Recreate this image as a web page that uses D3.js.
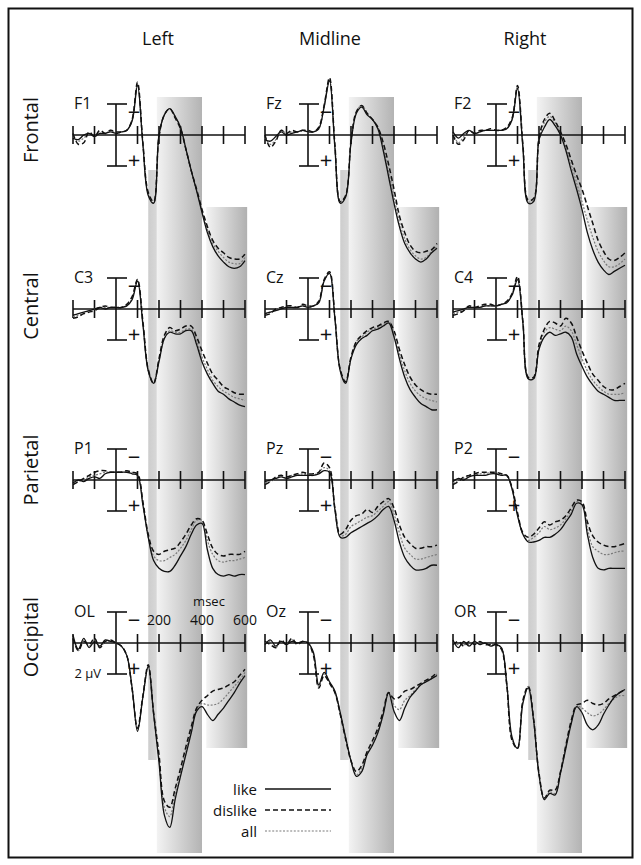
<!DOCTYPE html>
<html>
<head>
<meta charset="utf-8">
<script src="https://cdn.jsdelivr.net/npm/d3@7"></script>
<style>
  body { margin: 0; background: #fff; }
  svg text { font-family: "Open Sans", "Noto Sans", sans-serif; fill: #111; }
</style>
</head>
<body>
<svg id="fig" width="641" height="865"></svg>
<script>
// ---- data (values in microvolts, positive plotted downward) ----
const times = [-200,-175,-150,-125,-100,-75,-50,-25,0,25,50,75,100,125,150,175,200,225,250,275,300,325,350,375,400,425,450,475,500,525,550,575,600];
const tickTimes = [-200,-100,100,200,300,400,500,600];
const msecLabels = [200,400,600];
const columns = ["Left","Midline","Right"];
const regions = ["Frontal","Central","Parietal","Occipital"];
const electrodes = [["F1","Fz","F2"],["C3","Cz","C4"],["P1","Pz","P2"],["OL","Oz","OR"]];
const conditions = ["like","dislike","all"];
const bandNarrow = [150, 190];
const bandMain = [190, 400];
const bandLate = [420, 610];

const F1_like    = [0.2,0.3,0,-0.1,0.1,-0.1,-0.1,-0.2,-0.1,-0.2,-0.3, -0.9,-3.2,0.6,3.9,4.4,0,-1.3,-1.7,-1.2,-0.5,0.9, 2.3,3.6,5.0,6.3,7.2,7.8,8.2,8.5,8.6,8.5,8.1];
const F1_dislike = [-0.1,0.6,0.5,-0.2,0.1,-0.3,-0.1,-0.3,-0.2,-0.2,-0.3, -1.0,-3.4,0.5,3.7,4.3,0.1,-1.3,-1.7,-1.1,-0.4,0.9, 2.3,3.5,4.8,5.9,6.8,7.3,7.6,7.9,8.0,8.0,7.7];
const F1_all     = [0.1,0.4,0.2,-0.1,0.1,-0.1,-0.1,-0.3,-0.1,-0.2,-0.3, -1.0,-3.3,0.6,3.8,4.4,0.1,-1.3,-1.7,-1.2,-0.5,0.9, 2.3,3.6,4.9,6.1,7.0,7.5,7.9,8.2,8.3,8.3,7.9];

const Fz_like    = [0.3,0.4,0.1,-0.2,0,-0.1,-0.2,-0.3,-0.2,-0.2,-0.4, -1.8,-3.5,0.8,4.4,4.0,0.5,-1.4,-1.8,-1.3,-1.0,-0.4, 1.0,2.7,4.4,5.9,7.0,7.6,8.0,8.2,8.0,7.6,7.3];
const Fz_dislike = [0,0.8,0.4,-0.3,-0.1,-0.3,-0.2,-0.3,-0.3,-0.2,-0.5, -1.9,-3.7,0.6,4.3,3.9,0.4,-1.5,-1.9,-1.4,-1.0,-0.5, 0.5,1.9,3.5,5.2,6.3,7.1,7.5,7.6,7.5,7.4,7.0];
const Fz_all     = [0.2,0.6,0.3,-0.3,-0.1,-0.2,-0.2,-0.3,-0.2,-0.2,-0.4, -1.9,-3.6,0.7,4.3,3.9,0.5,-1.5,-1.9,-1.4,-1.0,-0.5, 0.8,2.4,4.0,5.6,6.7,7.4,7.8,8.0,7.9,7.5,7.2];

const F2_like    = [-0.2,0.2,-0.1,-0.3,-0.1,-0.2,-0.3,-0.3,-0.3,-0.3,-0.4, -1.0,-3.0,0.8,4.4,4.3,0.3,-0.5,-1.0,-0.6,0,1.0, 2.3,3.5,4.8,6.3,7.4,8.2,8.7,9.0,8.8,8.6,8.4];
const F2_dislike = [0,0.6,0.3,-0.3,-0.1,-0.3,-0.3,-0.4,-0.3,-0.3,-0.5, -1.1,-3.2,0.6,4.2,4.1,0.2,-1.0,-1.4,-0.9,-0.2,0.6, 1.6,2.6,3.5,4.6,5.7,6.8,7.5,8.0,8.1,7.9,7.6];
const F2_all     = [-0.1,0.5,0.1,-0.3,-0.1,-0.2,-0.3,-0.3,-0.3,-0.3,-0.4, -1.0,-3.1,0.7,4.3,4.2,0.3,-0.8,-1.2,-0.8,-0.1,0.8, 1.9,3.1,4.3,5.5,6.6,7.5,8.1,8.5,8.5,8.3,8.0];

const C3_like    = [0.4,0.3,0.2,0.1,0,-0.1,0,-0.1,-0.1,-0.1,-0.2, -0.6,-1.8,1.0,4.0,4.8,3.4,1.9,1.5,1.6,1.6,1.4, 1.4,2.3,3.4,4.2,4.8,5.3,5.5,5.8,6.0,6.2,6.3];
const C3_dislike = [0.6,0.5,0.3,0.2,0.1,-0.1,-0.2,-0.1,-0.1,-0.1,-0.3, -0.8,-1.9,0.8,3.9,4.8,3.2,1.7,1.2,1.4,1.3,1.1, 1.1,1.8,2.7,3.5,4.2,4.6,5.0,5.2,5.4,5.5,5.5];
const C3_all     = [0.5,0.4,0.3,0.1,0,-0.1,-0.1,-0.1,-0.1,-0.1,-0.2, -0.7,-1.9,0.9,3.9,4.8,3.3,1.9,1.4,1.5,1.5,1.3, 1.3,2.1,3.1,3.9,4.6,5.0,5.3,5.5,5.7,5.8,5.9];

const Cz_like    = [0.3,0.2,0.1,0,-0.1,-0.1,-0.1,-0.2,-0.1,-0.2,-0.4, -1.8,-2.3,0.6,4.0,4.8,3.2,2.3,1.9,1.7,1.4,1.3, 1.1,0.9,1.8,3.2,4.4,5.2,5.7,6.1,6.3,6.5,6.5];
const Cz_dislike = [0.4,0.3,0,-0.1,-0.2,-0.2,-0.1,-0.3,-0.2,-0.2,-0.5, -1.9,-2.4,0.5,3.9,4.7,3.1,2.1,1.7,1.4,1.2,1.1, 0.9,0.8,1.4,2.6,3.6,4.4,4.9,5.2,5.4,5.5,5.5];
const Cz_all     = [0.3,0.2,0.1,-0.1,-0.1,-0.1,-0.1,-0.2,-0.1,-0.2,-0.4, -1.8,-2.3,0.6,3.9,4.8,3.2,2.1,1.8,1.5,1.3,1.2, 1.0,0.8,1.6,2.9,4.0,4.8,5.3,5.6,5.8,5.9,6.0];

const C4_like    = [0.2,0.1,0,-0.1,-0.1,-0.1,-0.2,-0.2,-0.2,-0.3,-0.4, -0.9,-1.9,0.9,4.5,4.5,2.6,1.8,1.5,1.7,1.6,1.5, 1.8,2.9,3.7,4.4,4.9,5.3,5.5,5.7,5.9,5.9,5.9];
const C4_dislike = [0.4,0.3,0.1,-0.2,-0.1,-0.2,-0.3,-0.3,-0.2,-0.3,-0.5, -1.0,-2.1,0.8,4.4,4.4,2.3,1.3,0.8,0.9,1.1,0.6, 0.9,1.8,2.7,3.5,4.2,4.6,5.0,5.2,5.2,5.0,4.8];
const C4_all     = [0.3,0.2,0.1,-0.1,-0.1,-0.1,-0.2,-0.2,-0.2,-0.3,-0.4, -1.0,-2.0,0.8,4.5,4.5,2.5,1.5,1.2,1.3,1.4,1.1, 1.4,2.3,3.2,4.0,4.6,5.0,5.3,5.5,5.5,5.5,5.4];

const P1_like    = [0.2,0,0.1,-0.1,-0.2,-0.1,-0.4,-0.5,-0.5,-0.5,-0.5, -0.4,-0.3,1.6,3.7,5.2,5.7,5.9,5.9,5.5,4.9,4.3, 3.5,2.9,2.8,4.5,5.7,6.1,6.2,6.1,6.2,6.1,6.1];
const P1_dislike = [0.3,0.1,-0.1,-0.3,-0.5,-0.6,-0.6,-0.5,-0.5,-0.5,-0.6, -0.5,-0.4,1.4,3.5,4.6,4.8,4.6,4.5,4.4,4.0,3.5, 2.9,2.5,2.6,3.5,4.4,4.8,4.9,4.8,4.8,4.8,4.6];
const P1_all     = [0.3,0.1,0,-0.2,-0.3,-0.4,-0.5,-0.5,-0.5,-0.5,-0.5, -0.5,-0.3,1.5,3.7,4.9,5.2,5.2,5.0,4.8,4.4,3.9, 3.2,2.6,2.6,3.9,4.8,5.2,5.3,5.2,5.2,5.1,5.0];

const Pz_like    = [0.1,0,-0.1,-0.2,-0.1,-0.2,-0.3,-0.3,-0.3,-0.3,-0.4, -0.6,-0.5,1.9,3.7,3.7,3.4,3.2,3.0,2.8,2.6,2.3, 1.9,1.7,2.6,4.0,5.0,5.5,5.8,5.8,5.7,5.5,5.5];
const Pz_dislike = [0.3,0.1,-0.2,-0.3,-0.2,-0.3,-0.4,-0.5,-0.4,-0.4,-0.5, -1.1,-0.8,1.8,3.5,3.2,2.6,2.3,2.2,1.9,2.1,1.7, 1.4,1.2,1.8,2.9,3.7,4.1,4.4,4.4,4.3,4.3,4.2];
const Pz_all     = [0.2,0.1,-0.1,-0.3,-0.1,-0.3,-0.3,-0.4,-0.3,-0.3,-0.5, -0.8,-0.6,1.9,3.6,3.5,3.0,2.8,2.6,2.4,2.3,2.0, 1.7,1.4,2.2,3.4,4.4,4.8,5.1,5.1,5.0,4.9,4.8];

const P2_like    = [0.1,-0.1,0,-0.2,-0.3,-0.3,-0.3,-0.4,-0.4,-0.3,-0.3, 0.6,2.3,3.5,4.0,4.0,3.9,3.7,3.7,3.5,3.2,2.7, 2.2,1.5,1.6,3.5,5.0,5.7,5.8,5.7,5.7,5.7,5.7];
const P2_dislike = [0.3,0.1,-0.2,-0.3,-0.4,-0.5,-0.5,-0.5,-0.5,-0.4,-0.3, 0.5,2.1,3.4,3.7,3.5,3.1,2.7,2.9,2.7,2.6,2.3, 1.8,1.3,1.4,2.7,3.6,4.0,4.2,4.3,4.3,4.2,4.1];
const P2_all     = [0.2,0,-0.1,-0.3,-0.3,-0.4,-0.4,-0.5,-0.4,-0.3,-0.3, 0.6,2.2,3.5,3.9,3.7,3.4,3.0,3.2,3.1,2.9,2.5, 2.0,1.4,1.5,3.1,4.3,4.6,4.8,4.8,4.7,4.6,4.6];

const OL_like    = [-0.5,0.4,-0.3,0.3,-0.1,0.2,-0.2,-0.1,0,0.2,0.8, 2.9,5.7,3.5,1.5,4.6,7.7,11.1,11.9,10.1,8.6,7.2, 5.8,4.4,4.1,4.6,5.0,4.6,4.2,3.7,3.2,2.6,2.1];
const OL_dislike = [-0.3,0.5,-0.1,0.1,-0.3,0.3,-0.1,-0.2,0,0.2,0.8, 3.0,5.5,3.4,1.4,4.5,7.2,10.2,10.6,9.4,8.1,6.7, 5.4,4.2,3.7,3.4,3.1,3.0,2.9,2.7,2.5,2.1,1.7];
const OL_all     = [-0.4,0.5,-0.2,0.2,-0.2,0.3,-0.1,-0.1,0,0.2,0.8, 2.9,5.6,3.5,1.5,4.6,7.5,10.6,11.2,9.7,8.4,7.0, 5.6,4.3,3.9,4.0,4.0,3.9,3.6,3.2,2.8,2.4,1.9];

const Oz_like    = [0.1,-0.2,0.2,-0.1,0.1,-0.1,0,-0.1,0,0.6,2.7, 1.9,2.5,3.1,4.5,6.1,7.6,8.6,8.3,7.2,6.6,5.8, 4.6,3.2,4.4,5.0,4.2,3.5,3.1,2.7,2.5,2.3,2.1];
const Oz_dislike = [-0.1,0.1,0.3,-0.2,0.1,-0.3,0.1,-0.1,0,0.8,2.9, 2.1,2.6,3.2,4.6,6.2,7.6,8.3,7.9,7.0,6.3,5.5, 4.4,3.2,3.6,3.5,3.1,3.0,2.8,2.6,2.4,2.2,1.9];
const Oz_all     = [0,-0.1,0.3,-0.1,0.1,-0.2,0,-0.1,0,0.7,2.8, 2.0,2.5,3.2,4.6,6.1,7.6,8.5,8.1,7.1,6.5,5.7, 4.5,3.2,4.0,4.3,3.7,3.4,3.0,2.7,2.5,2.3,2.0];

const OR_like    = [-0.2,0.3,-0.1,0.2,-0.1,0.1,0,0.2,0.1,0.3,2.6, 6.1,6.8,3.9,2.9,5.0,8.5,10.1,9.7,9.8,8.4,6.8, 5.2,4.1,4.5,5.3,5.6,5.3,4.6,4.0,3.5,3.2,3.0];
const OR_dislike = [0.1,-0.1,0.2,-0.1,0.1,-0.1,0.1,0.1,0.1,0.4,2.7, 6.3,6.8,3.7,2.8,4.9,8.4,10.0,9.5,9.5,8.3,6.6, 5.0,4.0,3.9,3.7,3.9,4.0,3.9,3.6,3.4,3.2,3.0];
const OR_all     = [0,0.1,0.1,0.1,0,0,0,0.1,0.1,0.3,2.6, 6.2,6.8,3.8,2.8,5.0,8.5,10.1,9.6,9.7,8.3,6.6, 5.1,4.1,4.2,4.5,4.7,4.6,4.3,3.9,3.6,3.4,3.4];

// lookup table built from the arrays above
const waves = {
  F1: {like: F1_like, dislike: F1_dislike, all: F1_all},
  Fz: {like: Fz_like, dislike: Fz_dislike, all: Fz_all},
  F2: {like: F2_like, dislike: F2_dislike, all: F2_all},
  C3: {like: C3_like, dislike: C3_dislike, all: C3_all},
  Cz: {like: Cz_like, dislike: Cz_dislike, all: Cz_all},
  C4: {like: C4_like, dislike: C4_dislike, all: C4_all},
  P1: {like: P1_like, dislike: P1_dislike, all: P1_all},
  Pz: {like: Pz_like, dislike: Pz_dislike, all: Pz_all},
  P2: {like: P2_like, dislike: P2_dislike, all: P2_all},
  OL: {like: OL_like, dislike: OL_dislike, all: OL_all},
  Oz: {like: Oz_like, dislike: Oz_dislike, all: Oz_all},
  OR: {like: OR_like, dislike: OR_dislike, all: OR_all}
};

// ---- layout ----
const colZero = [116, 308, 496];    // x of 0 ms in each column
const rowAxis = [135, 309, 480, 643]; // y of 0 uV in each row
const lineStyle = {
  like:    {stroke: "#111", width: 1.3, dash: null},
  dislike: {stroke: "#111", width: 1.5, dash: "5,3"},
  all:     {stroke: "#7a7a7a", width: 1.2, dash: "2,1.6"}
};

class ErpFigure {
  constructor(svgSel){
    this.svg = d3.select(svgSel);
    this.defs = this.svg.append("defs");
    this.makeGradients();

    this.gBands = this.svg.append("g").attr("filter", "url(#soft)");
    this.gAxes = this.svg.append("g");
    this.gLines = this.svg.append("g");
    this.gText = this.svg.append("g");

    this.drawFrame();
    this.drawBands();
    columns.forEach((c, ci) => {
      regions.forEach((r, ri) => this.drawPanel(ri, ci));
    });
    this.drawLabels();
    this.drawLegend();
  }

  xScale(ci){
    return d3.scaleLinear().domain([-200, 600]).range([colZero[ci] - 43, colZero[ci] + 129]);
  }

  yScale(ri){
    // 2 uV = 31 px, negative up
    return d3.scaleLinear().domain([-2, 2]).range([rowAxis[ri] - 31, rowAxis[ri] + 31]);
  }

  makeGradients(){
    const grad = (id, a, b) => {
      const g = this.defs.append("linearGradient").attr("id", id)
        .attr("x1", "0%").attr("x2", "100%").attr("y1", "0%").attr("y2", "0%");
      g.append("stop").attr("offset", "0%").attr("stop-color", a);
      g.append("stop").attr("offset", "100%").attr("stop-color", b);
    };
    grad("gMain", "#f3f3f3", "#b3b3b3");
    grad("gLate", "#f3f3f3", "#b0b0b0");
    grad("gNarrow", "#cdcdcd", "#d8d8d8");
    this.defs.append("filter").attr("id", "soft")
      .append("feGaussianBlur").attr("stdDeviation", 0.7);
  }

  drawFrame(){
    this.svg.append("rect")
      .attr("x", 8.5).attr("y", 8.5).attr("width", 624).attr("height", 849)
      .attr("fill", "none").attr("stroke", "#111").attr("stroke-width", 2);
  }

  drawBands(){
    const specs = [
      {win: bandNarrow, fill: "url(#gNarrow)", top: rowAxis[0] + 35, bottom: rowAxis[3] + 117},
      {win: bandMain, fill: "url(#gMain)", top: rowAxis[0] - 38, bottom: rowAxis[3] + 210},
      {win: bandLate, fill: "url(#gLate)", top: rowAxis[1] - 102, bottom: rowAxis[3] + 105}
    ];
    columns.forEach((c, ci) => {
      const x = this.xScale(ci);
      specs.forEach(s => {
        this.gBands.append("rect")
          .attr("x", x(s.win[0])).attr("width", x(s.win[1]) - x(s.win[0]))
          .attr("y", s.top).attr("height", s.bottom - s.top)
          .attr("fill", s.fill);
      });
    });
  }

  drawPanel(ri, ci){
    const x = this.xScale(ci), y = this.yScale(ri);
    const x0 = x(0), y0 = y(0);
    const g = this.gAxes.append("g").attr("stroke", "#111").attr("stroke-width", 1.6);

    // time axis + ticks
    g.append("line").attr("x1", x(-200)).attr("x2", x(600)).attr("y1", y0).attr("y2", y0);
    g.selectAll(".tick").data(tickTimes).enter().append("line")
      .attr("x1", d => x(d)).attr("x2", d => x(d))
      .attr("y1", y0 - 9).attr("y2", y0 + 9);

    // amplitude scale bar
    g.append("line").attr("x1", x0).attr("x2", x0).attr("y1", y(-2)).attr("y2", y(2));
    g.append("line").attr("x1", x0 - 9).attr("x2", x0 + 11).attr("y1", y(-2)).attr("y2", y(-2));
    g.append("line").attr("x1", x0 - 9).attr("x2", x0 + 11).attr("y1", y(2)).attr("y2", y(2));

    // polarity signs and electrode name
    this.gText.append("text").attr("x", x0 + 18).attr("y", y0 - 15)
      .attr("text-anchor", "middle").style("font-size", "22px").text("\u2212");
    this.gText.append("text").attr("x", x0 + 18).attr("y", y0 + 33)
      .attr("text-anchor", "middle").style("font-size", "22px").text("+");
    this.gText.append("text").attr("x", x0 - 42).attr("y", y0 - 26)
      .style("font-size", "16px").text(electrodes[ri][ci]);

    // waveforms
    const name = electrodes[ri][ci];
    const line = d3.line()
      .x((d, i) => x(times[i]))
      .y(d => y(d))
      .curve(d3.curveCatmullRom.alpha(0.5));
    ["all", "dislike", "like"].forEach(cond => {
      const st = lineStyle[cond];
      this.gLines.append("path")
        .datum(waves[name][cond])
        .attr("d", line)
        .attr("fill", "none")
        .attr("stroke", st.stroke)
        .attr("stroke-width", st.width)
        .attr("stroke-dasharray", st.dash)
        .attr("stroke-linejoin", "round");
    });
  }

  drawLabels(){
    const headX = [158, 330, 525];
    columns.forEach((c, ci) => {
      this.gText.append("text").attr("x", headX[ci]).attr("y", 45)
        .attr("text-anchor", "middle").style("font-size", "18px").text(c);
    });
    const rowCenter = [130, 306, 470, 637];
    regions.forEach((r, ri) => {
      this.gText.append("text")
        .attr("transform", `translate(38,${rowCenter[ri]}) rotate(-90)`)
        .attr("text-anchor", "middle").style("font-size", "20px").text(r);
    });

    // time labels on the occipital-left panel
    const x = this.xScale(0), y0 = rowAxis[3];
    this.gText.selectAll(".msl").data(msecLabels).enter().append("text")
      .attr("x", d => x(d)).attr("y", y0 - 18)
      .attr("text-anchor", "middle").style("font-size", "14px").text(d => d);
    this.gText.append("text").attr("x", 209).attr("y", y0 - 37)
      .attr("text-anchor", "middle").style("font-size", "13px").text("msec");
    this.gText.append("text").attr("x", 101).attr("y", y0 + 35)
      .attr("text-anchor", "end").style("font-size", "13px").text("2 \u00b5V");
  }

  drawLegend(){
    const ly = [789, 810, 831];
    conditions.forEach((c, i) => {
      const st = lineStyle[c];
      this.gText.append("text").attr("x", 257).attr("y", ly[i] + 6)
        .attr("text-anchor", "end").style("font-size", "15px").text(c);
      this.gLines.append("line")
        .attr("x1", 265).attr("x2", 331).attr("y1", ly[i]).attr("y2", ly[i])
        .attr("stroke", st.stroke).attr("stroke-width", c === "like" ? 1.6 : st.width)
        .attr("stroke-dasharray", st.dash);
    });
  }
}

new ErpFigure("#fig");
</script>
</body>
</html>
